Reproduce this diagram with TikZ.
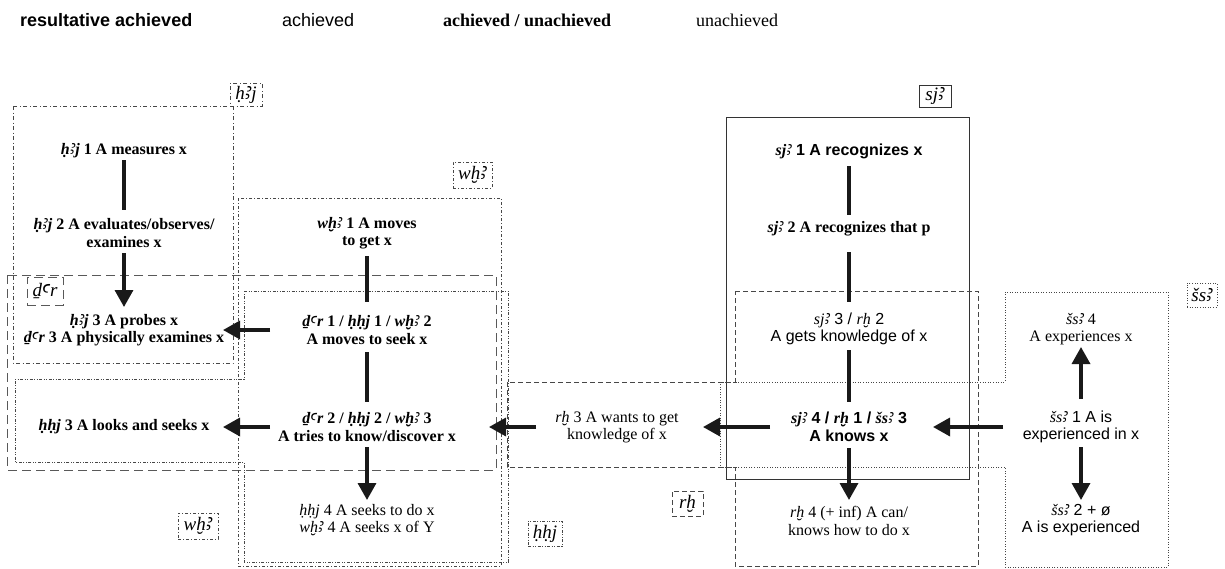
\documentclass[tikz,border=0pt]{standalone}
\usepackage{fontspec}
\setmainfont{Liberation Serif}
\setsansfont{Liberation Sans}
\newfontfamily\egyfont{Noto Sans}[Scale=1.15]
\usetikzlibrary{arrows.meta}

% Egyptological alef and ayin, taken from a family that has them
\newcommand\al{{\egyfont ꜣ}}
\newcommand\ay{{\egyfont ꜥ}}
% transliteration: italic serif, keeps the surrounding weight
\newcommand\tl[1]{{\rmfamily\itshape #1}}
\newcommand\bodysize{\fontsize{16}{17.5}\selectfont}
\newcommand\headsize{\fontsize{18}{20}\selectfont}

\begin{document}
\begin{tikzpicture}[x=1pt,y=-1pt,
  every node/.style={inner sep=0pt, align=center},
  ra/.style={font=\sffamily\bfseries\bodysize},
  ac/.style={font=\sffamily\bodysize},
  au/.style={font=\rmfamily\bfseries\bodysize},
  un/.style={font=\rmfamily\bodysize},
  head/.style={anchor=west},
  link/.style={draw=black!90, line width=3.4pt},
  arr/.style={link, -{Triangle[length=17pt,width=18pt]}},
  frame/.style={draw=black!72, line width=0.8pt},
  dashdotA/.style={frame, dash pattern=on 4pt off 2.5pt on 1pt off 2.5pt},
  dashdotB/.style={frame, dash pattern=on 3pt off 2pt on 1pt off 2pt},
  dashdotdot/.style={frame, dash pattern=on 3pt off 1.5pt on 1pt off 1.5pt on 1pt off 1.5pt},
  longdash/.style={frame, draw=black!65, dash pattern=on 9pt off 5pt},
  shortdash/.style={frame, dash pattern=on 5pt off 3pt},
  dots/.style={frame, dash pattern=on 1pt off 1.6pt},
  tag/.style={font=\rmfamily\itshape\fontsize{19}{20}\selectfont, inner sep=2pt}
]
\useasboundingbox (0,0) rectangle (1225,568);

% ---- legend row ----
\node[head, font=\sffamily\bfseries\headsize] (legRA) at (20,20) {resultative achieved};
\node[head, font=\sffamily\headsize] (legA) at (282,20) {achieved};
\node[head, font=\rmfamily\bfseries\headsize] (legAU) at (443,20) {achieved / unachieved};
\node[head, font=\rmfamily\headsize] (legU) at (696,20) {unachieved};

% ---- lexeme frames ----
\draw[dashdotA] (13,106) rectangle (233,363);                 % hꜣj
\draw[longdash] (7,275) rectangle (496,470);                  % ḏꜥr
\draw[dashdotB] (238,198) rectangle (501,566);                % wḫꜣ
\draw[dashdotdot] (244,291) -- (508,291) -- (508,562) -- (244,562)
  -- (244,462) -- (15,462) -- (15,379) -- (244,379) -- cycle; % ḥḥj
\draw[frame, draw=black!80] (726,117) rectangle (969,479);    % sjꜣ
\draw[shortdash] (735,291) -- (978,291) -- (978,566) -- (735,566)
  -- (735,467) -- (507,467) -- (507,382) -- (735,382) -- cycle; % rḫ
\draw[dots] (720,382) -- (1005,382) -- (1005,292) -- (1168,292)
  -- (1168,567) -- (1005,567) -- (1005,467) -- (720,467) -- cycle; % šsꜣ

% ---- frame tags ----
\node[tag, dashdotA, minimum width=32pt, minimum height=23pt] (tagH) at (246,94.5) {ḥ\al j};
\node[tag, dashdotB, minimum width=39pt, minimum height=26pt] (tagW) at (472.5,175) {wḫ\al};
\node[tag, longdash, minimum width=36pt, minimum height=28pt] (tagD) at (45,291) {ḏ\ay r};
\node[tag, dashdotB, minimum width=40pt, minimum height=26pt] (tagW2) at (198,526) {wḫ\al};
\node[tag, dashdotdot, minimum width=34pt, minimum height=25pt] (tagHH) at (545,533.5) {ḥḥj};
\node[tag, shortdash, minimum width=31pt, minimum height=25pt] (tagR) at (687.5,503.5) {rḫ};
\node[tag, frame, draw=black!80, minimum width=32pt, minimum height=22pt] (tagS) at (935,96) {sj\al};
\node[tag, dots, minimum width=30pt, minimum height=24pt] (tagSS) at (1202,295) {šs\al};

% ---- meanings ----
\node[au] (h1) at (124,151) {\tl{ḥ\al j} 1 A measures x};
\node[au] (h2) at (124,233) {\tl{ḥ\al j} 2 A evaluates/observes/\\examines x};
\node[au] (h3) at (124,330) {\tl{ḥ\al j} 3 A probes x\\\tl{ḏ\ay r} 3 A physically examines x};
\node[au] (hh3) at (124,427) {\tl{ḥḥj} 3 A looks and seeks x};

\node[au] (w1) at (367,233) {\tl{wḫ\al} 1 A moves\\to get x};
\node[au] (d1) at (367,330) {\tl{ḏ\ay r} 1 / \tl{ḥḥj} 1 / \tl{wḫ\al} 2\\A moves to seek x};
\node[au] (d2) at (367,427) {\tl{ḏ\ay r} 2 / \tl{ḥḥj} 2 / \tl{wḫ\al} 3\\A tries to know/discover x};
\node[un] (hh4) at (367,520) {\tl{ḥḥj} 4 A seeks to do x\\\tl{wḫ\al} 4 A seeks x of Y};

\node[un] (rh3) at (617,427) {\tl{rḫ} 3 A wants to get\\knowledge of x};

\node[ra] (s1) at (849,151) {\tl{sj\al} 1 A recognizes x};
\node[au] (s2) at (849,229) {\tl{sj\al} 2 A recognizes that p};
\node[ac] (s3) at (849,329) {\tl{sj\al} 3 / \tl{rḫ} 2\\A gets knowledge of x};
\node[ra] (s4) at (849,427) {\tl{sj\al} 4 / \tl{rḫ} 1 / \tl{šs\al} 3\\A knows x};
\node[un] (r4) at (849,521) {\tl{rḫ} 4 (+ inf) A can/\\knows how to do x};

\node[un] (ss4) at (1081,329) {\tl{šs\al} 4\\A experiences x};
\node[ac] (ss1) at (1081,427) {\tl{šs\al} 1 A is\\experienced in x};
\node[ac] (ss2) at (1081,520) {\tl{šs\al} 2 + ø\\A is experienced};

% ---- vertical links ----
\draw[link, shorten <=9pt, shorten >=23pt] (h1.center) -- (h2.center);
\draw[arr, shorten <=20pt, shorten >=23pt] (h2.center) -- (h3.center);
\draw[link, shorten <=23pt, shorten >=28pt] (w1.center) -- (d1.center);
\draw[link, shorten <=22pt, shorten >=25pt] (d1.center) -- (d2.center);
\draw[arr, shorten <=20pt, shorten >=20pt] (d2.center) -- (hh4.center);
\draw[link, shorten <=15pt, shorten >=14pt] (s1.center) -- (s2.center);
\draw[link, shorten <=23pt, shorten >=27pt] (s2.center) -- (s3.center);
\draw[link, shorten <=21pt, shorten >=25pt] (s3.center) -- (s4.center);
\draw[arr, shorten <=21pt, shorten >=21pt] (s4.center) -- (r4.center);
\draw[arr, shorten <=28pt, shorten >=18pt] (ss1.center) -- (ss4.center);
\draw[arr, shorten <=20pt, shorten >=20pt] (ss1.center) -- (ss2.center);

% ---- horizontal links ----
\draw[arr, shorten <=97pt, shorten >=99pt] (d1.center) -- (h3.center);
\draw[arr, shorten <=97pt, shorten >=99pt] (d2.center) -- (hh3.center);
\draw[arr, shorten <=81pt, shorten >=122pt] (rh3.center) -- (d2.center);
\draw[arr, shorten <=79pt, shorten >=86pt] (s4.center) -- (rh3.center);
\draw[arr, shorten <=78pt, shorten >=84pt] (ss1.center) -- (s4.center);
\end{tikzpicture}
\end{document}
